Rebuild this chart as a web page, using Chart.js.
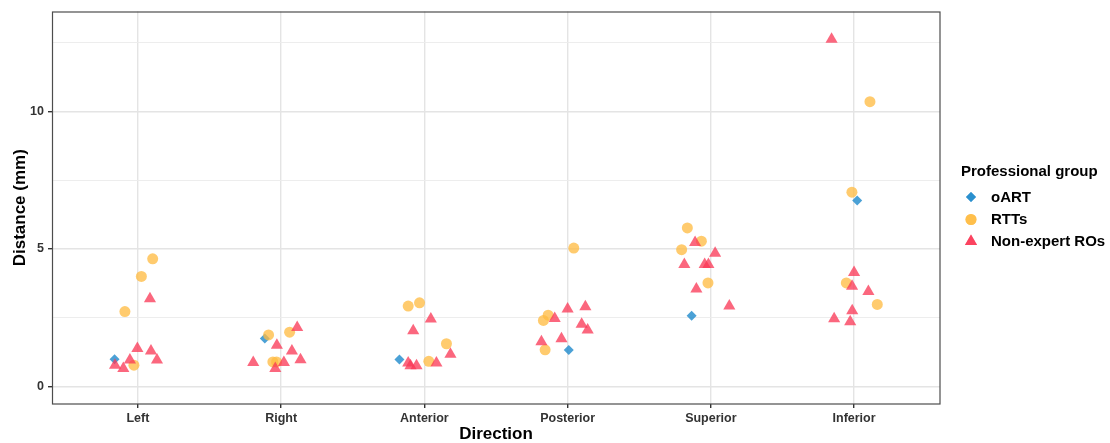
<!DOCTYPE html>
<html>
<head>
<meta charset="utf-8">
<script src="https://cdn.jsdelivr.net/npm/chart.js@4/dist/chart.umd.min.js"></script>
<style>
  html, body { margin: 0; padding: 0; background: #ffffff; }
  #wrap { width: 1110px; height: 443px; position: relative; }
</style>
</head>
<body>
<div id="wrap"><canvas id="c" width="1110" height="443"></canvas></div>
<script>
// ---------- data ----------
const categories = ["Left", "Right", "Anterior", "Posterior", "Superior", "Inferior"];
const yTicks = [0, 5, 10];
const yMinorTicks = [2.5, 7.5, 12.5];
const groupNames = ["oART", "RTTs", "Non-expert ROs"];

// x = category position (1..6) including the plot's horizontal jitter
const oartX = [0.837, 1.886, 2.826, 4.008, 4.866, 6.022];
const oartY = [0.99, 1.74, 0.98, 1.32, 2.57, 6.76];

const rttX = [0.909, 1.024, 1.103, 0.972,
              1.912, 2.059, 1.942, 1.968,
              2.887, 2.966, 3.154, 3.031,
              4.043, 3.864, 3.831, 3.843,
              4.836, 4.934, 4.796, 4.980,
              6.111, 5.985, 5.946, 6.162];
const rttY = [2.72, 4.00, 4.64, 0.77,
              1.87, 1.97, 0.89, 0.89,
              2.92, 3.04, 1.55, 0.91,
              5.03, 2.59, 2.40, 1.33,
              5.76, 5.28, 4.97, 3.76,
              10.35, 7.06, 3.76, 2.98];

const roX = [1.084, 0.996, 1.091, 0.944, 1.133, 0.840, 0.898,
             2.112, 1.970, 2.075, 1.805, 2.019, 2.135, 1.959,
             3.045, 2.922, 3.182, 2.887, 2.903, 2.945, 3.084,
             4.000, 4.124, 3.910, 4.098, 4.140, 3.957, 3.817,
             4.890, 5.030, 4.815, 4.957, 4.983, 4.899, 5.129,
             5.843, 6.000, 5.986, 6.100, 5.987, 5.861, 5.973];
const roY = [3.19, 1.38, 1.29, 0.96, 0.96, 0.77, 0.65,
             2.14, 1.50, 1.29, 0.87, 0.87, 0.97, 0.65,
             2.45, 2.02, 1.17, 0.85, 0.75, 0.75, 0.85,
             2.81, 2.90, 2.47, 2.26, 2.05, 1.73, 1.62,
             5.23, 4.84, 4.43, 4.43, 4.43, 3.54, 2.92,
             12.62, 4.14, 3.64, 3.45, 2.75, 2.46, 2.35];

// ---------- styles ----------
const colBlue = "rgba(35,140,205,0.82)";
const colYellow = "rgba(255,186,64,0.76)";
const colRed = "rgba(250,55,85,0.76)";
const styles = [
  { color: colBlue, pointStyle: "rectRot", radius: 5 },
  { color: colYellow, pointStyle: "circle", radius: 5.5 },
  { color: colRed, pointStyle: "triangle", radius: 7 }
];

function pts(xs, ys) { return xs.map((x, i) => ({ x: x, y: ys[i] })); }

const seriesData = [pts(oartX, oartY), pts(rttX, rttY), pts(roX, roY)];

const datasets = groupNames.map((name, i) => ({
  label: name,
  data: seriesData[i],
  backgroundColor: styles[i].color,
  borderColor: styles[i].color,
  borderWidth: 0,
  pointStyle: styles[i].pointStyle,
  pointRadius: styles[i].radius,
  pointHoverRadius: styles[i].radius,
  order: 2 - i
}));

const FONT = "'Liberation Sans', Arial, sans-serif";

// panel border + legend
const panelPlugin = {
  id: "panel",
  afterDraw(chart) {
    const { ctx, chartArea: a } = chart;
    ctx.save();
    ctx.strokeStyle = "#4d4d4d";
    ctx.lineWidth = 1.2;
    ctx.strokeRect(a.left + 0.5, a.top + 0.5, a.right - a.left - 0.5, a.bottom - a.top - 0.5);

    // legend
    ctx.fillStyle = "#000";
    ctx.textBaseline = "middle";
    ctx.textAlign = "left";
    ctx.font = "bold 15px " + FONT;
    ctx.fillText("Professional group", 961, 172);
    const ys = [197, 219.5, 241.5];
    groupNames.forEach((name, i) => {
      const s = styles[i];
      ctx.fillStyle = s.color;
      ctx.strokeStyle = s.color;
      Chart.helpers.drawPoint(ctx, { pointStyle: s.pointStyle, radius: s.radius, rotation: 0, borderWidth: 0 }, 971, ys[i]);
      ctx.fill();
      ctx.fillStyle = "#000";
      ctx.font = "bold 15px " + FONT;
      ctx.fillText(name, 991, ys[i] + 0.5);
    });
    ctx.restore();
  }
};

new Chart(document.getElementById("c"), {
  type: "scatter",
  data: { datasets: datasets },
  options: {
    responsive: false,
    devicePixelRatio: 1,
    animation: false,
    layout: { padding: { left: 0, top: 11, right: 170, bottom: 0 } },
    plugins: { legend: { display: false }, tooltip: { enabled: false } },
    scales: {
      x: {
        type: "linear",
        min: 0.4,
        max: 6.6,
        afterBuildTicks(scale) { scale.ticks = categories.map((c, i) => ({ value: i + 1 })); },
        afterFit(scale) { scale.height = 39; },
        border: { display: false },
        grid: { color: "#e4e4e4", lineWidth: 1.4, tickColor: "#333333", tickLength: 4, drawTicks: true },
        ticks: {
          autoSkip: false,
          maxRotation: 0,
          padding: 3,
          color: "#333333",
          font: { family: FONT, size: 12.5, weight: "bold" },
          callback: (v) => categories[Math.round(v) - 1] || ""
        },
        title: {
          display: true,
          text: "Direction",
          color: "#000",
          font: { family: FONT, size: 17, weight: "bold" },
          padding: { top: 0, bottom: -2 }
        }
      },
      y: {
        type: "linear",
        min: -0.64,
        max: 13.63,
        afterBuildTicks(scale) {
          scale.ticks = yTicks.concat(yMinorTicks).sort((a, b) => a - b).map(v => ({ value: v }));
        },
        afterFit(scale) { scale.width = 52; },
        border: { display: false },
        grid: {
          color: (c) => (yTicks.includes(c.tick && c.tick.value) ? "#e4e4e4" : "#ebebeb"),
          lineWidth: (c) => (yTicks.includes(c.tick && c.tick.value) ? 1.4 : 0.9),
          tickColor: (c) => (yTicks.includes(c.tick && c.tick.value) ? "#333333" : "rgba(0,0,0,0)"),
          tickLength: 4
        },
        ticks: {
          autoSkip: false,
          padding: 4,
          color: "#333333",
          font: { family: FONT, size: 12.5, weight: "bold" },
          callback: (v) => (yTicks.includes(v) ? String(v) : "")
        },
        title: {
          display: true,
          text: "Distance (mm)",
          color: "#000",
          font: { family: FONT, size: 17, weight: "bold" },
          padding: { top: 10, bottom: 0 }
        }
      }
    }
  },
  plugins: [panelPlugin]
});
</script>
</body>
</html>
